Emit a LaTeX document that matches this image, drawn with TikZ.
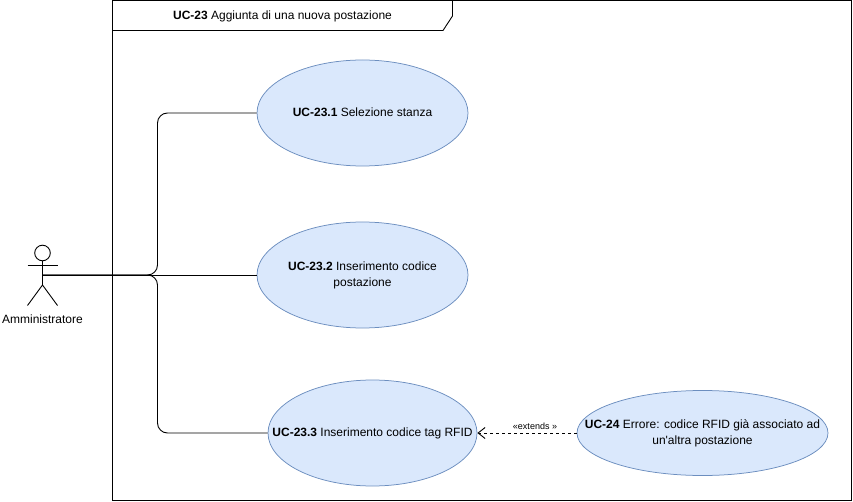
\documentclass[tikz,border=0pt]{standalone}
\usepackage{fontspec}
\setmainfont{Liberation Sans}
\newfontfamily\plainfont{Liberation Sans}
\usetikzlibrary{arrows.meta,shapes.geometric}
\definecolor{ucf}{HTML}{DAE8FC}
\definecolor{ucb}{HTML}{6C8EBF}
\newcommand{\uctext}[1]{\makebox[0pt]{\raisebox{-0.8pt}{\begin{tabular}{@{}c@{}}#1\end{tabular}}}}
\tikzset{
  uc/.style={ellipse,draw=ucb,fill=ucf,line width=0.75pt,minimum width=#1,inner sep=0pt,font=\fontsize{12}{16}\selectfont},
  conn/.style={draw=black,line width=0.9pt,rounded corners=10pt},
  ln/.style={draw=black,line width=0.9pt},
  lbl/.style={font=\fontsize{12}{14}\selectfont,inner sep=0pt}
}
\begin{document}
\begin{tikzpicture}[x=1pt,y=-1pt]
\useasboundingbox (0,0) rectangle (853,502);
\draw[ln] (112.5,0.5) rectangle (851.5,500);
\draw[ln] (112.5,30.5) -- (443,30.5) -- (452.5,16) -- (452.5,0.5);
\node[lbl,anchor=center] (title) at (282.5,16.3) {\textbf{UC-23} Aggiunta di una nuova postazione};
\node[uc=211pt,minimum height=106pt] (e1) at (362.5,113) {\uctext{\textbf{UC-23.1} Selezione stanza}};
\node[uc=211pt,minimum height=106pt] (e2) at (362.5,275) {\uctext{\textbf{UC-23.2} Inserimento codice\\postazione}};
\node[uc=209pt,minimum height=106pt] (e3) at (372.5,433) {\uctext{\textbf{UC-23.3} Inserimento codice tag RFID}};
\node[uc=251pt,minimum height=85pt] (e4) at (702.5,433) {\uctext{\textbf{UC-24} Errore: codice RFID già associato ad\\un{\plainfont '}altra postazione}};
% actor
\draw[ln] (42.5,253) circle (7.8);
\coordinate (neck) at (42.5,261);
\coordinate (hip) at (42.5,285);
\coordinate (hand) at (42.5,275);
\draw[ln] (neck) -- (hip);
\draw[ln] (27.5,265.5) -- (57.5,265.5);
\draw[ln] (27.5,305.5) -- (hip) -- (57.5,305.5);
\node[lbl,anchor=center] (actorlabel) at (42.5,319) {Amministratore};
\draw[conn] (hand) -- (e2.west);
\draw[conn] (hand) -- (157.5,275) -- (157.5,113) -- (e1.west);
\draw[conn] (hand) -- (157.5,275) -- (157.5,433) -- (e3.west);
\draw[ln,dash pattern=on 3pt off 3pt,-{Straight Barb[length=7pt,width=11pt]}] (e4.west) -- (e3.east);
\node[font=\fontsize{9}{11}\selectfont,inner sep=0pt] (ext) at (535,426) {«extends »};
\end{tikzpicture}
\end{document}
